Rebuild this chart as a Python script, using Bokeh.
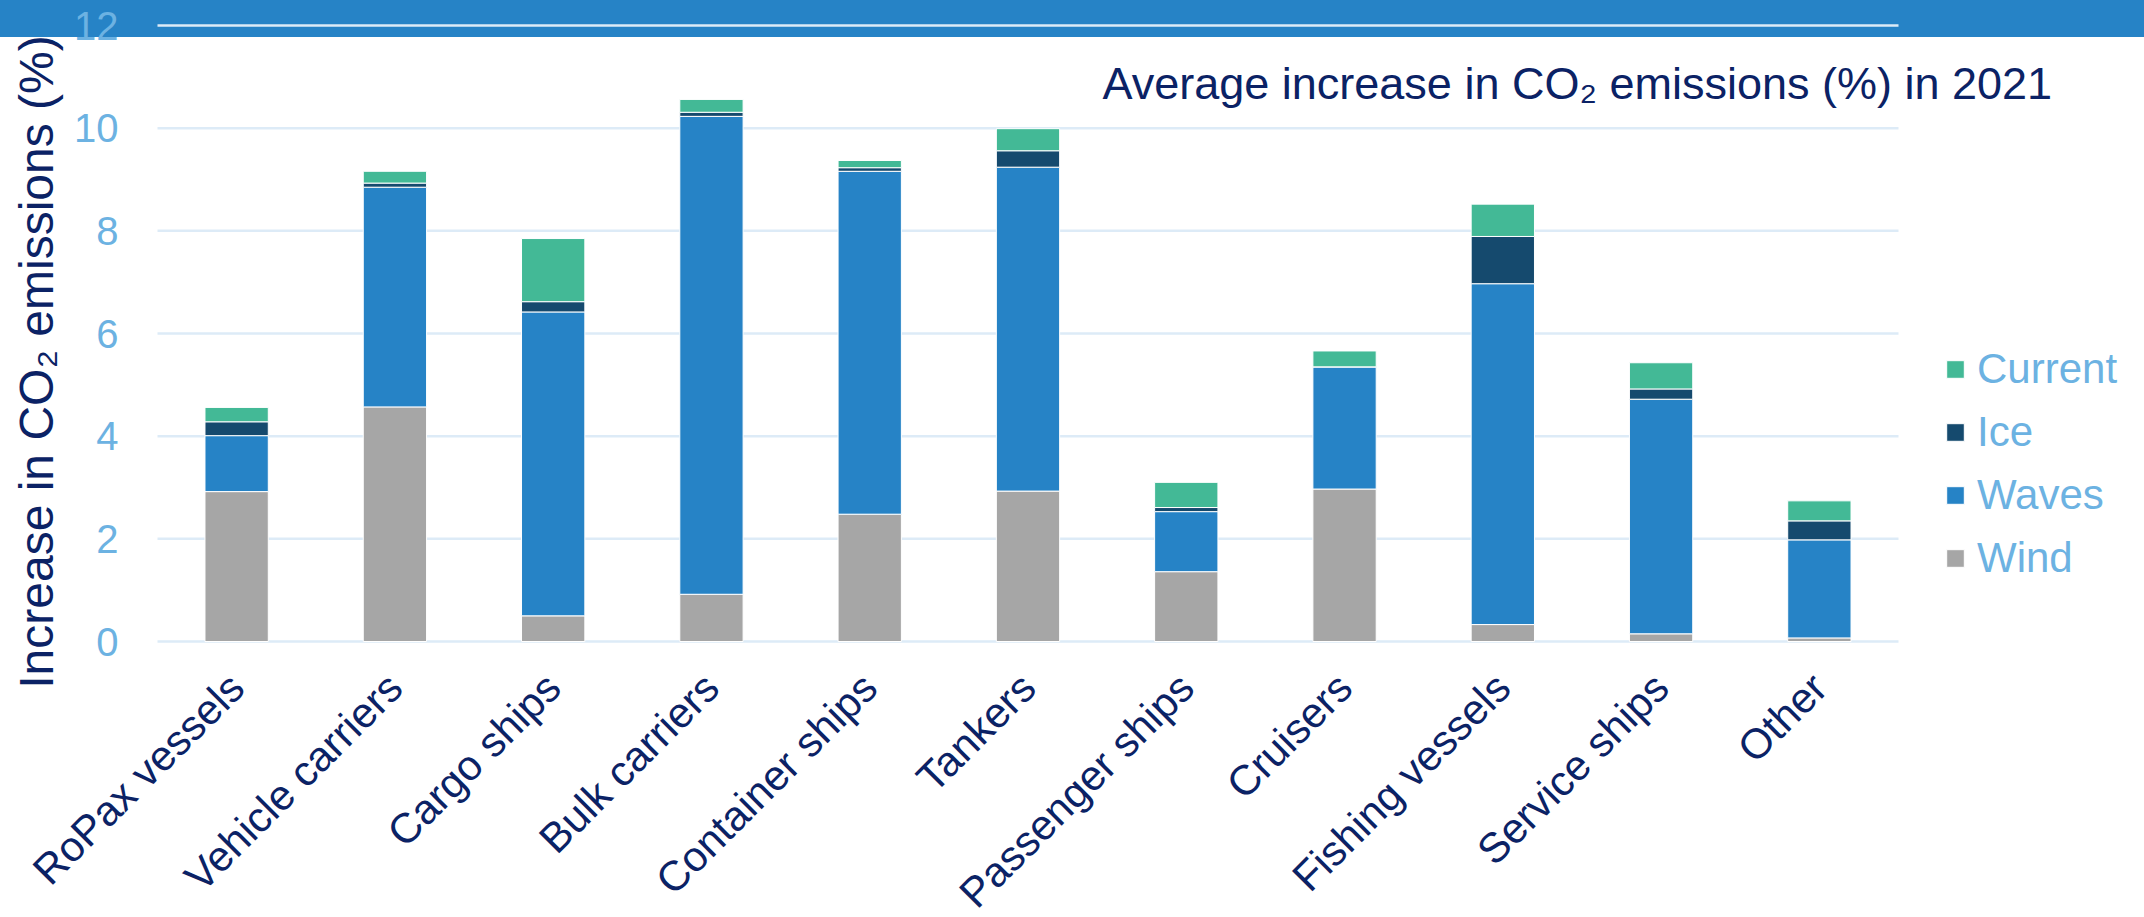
import math
from bokeh.plotting import figure
from bokeh.models import (ColumnDataSource, Range1d, Label, Legend, LegendItem, FixedTicker)
from bokeh.embed import file_html
from bokeh.resources import INLINE

# ---------------- data ----------------
categories = ["RoPax vessels", "Vehicle carriers", "Cargo ships", "Bulk carriers",
              "Container ships", "Tankers", "Passenger ships", "Cruisers",
              "Fishing vessels", "Service ships", "Other"]
wind = [2.92, 4.57, 0.50, 0.92, 2.48, 2.93, 1.36, 2.97, 0.33, 0.15, 0.07]
waves = [1.09, 4.28, 5.92, 9.31, 6.68, 6.31, 1.17, 2.38, 6.64, 4.57, 1.91]
ice = [0.27, 0.08, 0.20, 0.08, 0.07, 0.32, 0.08, 0.00, 0.92, 0.20, 0.37]
current = [0.28, 0.23, 1.23, 0.25, 0.14, 0.43, 0.49, 0.31, 0.63, 0.51, 0.39]
series = ["Wind", "Waves", "Ice", "Current"]
y_ticks = [0, 2, 4, 6, 8, 10, 12]
title_text = "Average increase in CO\u2082 emissions (%) in 2021"
y_label = "Increase in CO\u2082 emissions (%)"

# ---------------- style ----------------
colors = ["#A6A6A6", "#2683C6", "#154A6E", "#43B996"]
NAVY = "#0B2265"
LIGHT = "#6CB2E2"
GRID = "#DDEBF7"
BAND = "#2683C6"
FONT = "Liberation Sans"

n = len(categories)
pos = list(range(n))
source = ColumnDataSource(dict(x=pos, cat=categories, Wind=wind, Waves=waves,
                               Ice=ice, Current=current))

# layout geometry (pixels)
W, H = 2144, 917
plot_left, plot_right = 157, 1898      # category area
y0_px, y12_px = 641, 25                # screen rows of 0 and 12
cat_px = (plot_right - plot_left) / n
ppu = (y0_px - y12_px) / 12.0

x_start = -0.5 - plot_left / cat_px
x_end = -0.5 + (W - plot_left) / cat_px
y_start = -(H - y0_px) / ppu
y_end = y0_px / ppu

def sx(px):  # screen x -> data x
    return x_start + px / cat_px

def sy(py):  # screen y -> data y
    return (y0_px - py) / ppu

p = figure(width=W, height=H,
           x_range=Range1d(x_start, x_end), y_range=Range1d(y_start, y_end),
           output_backend="svg", toolbar_location=None,
           min_border_left=0, min_border_right=0,
           min_border_top=0, min_border_bottom=0,
           outline_line_color=None,
           background_fill_alpha=0, border_fill_alpha=0)
# header band behind the (transparent) canvas
p.styles = {"background": f"linear-gradient(to bottom, {BAND} 0px, {BAND} 37px, #FFFFFF 37px, #FFFFFF 100%)"}

# grid lines across the category area only
p.xgrid.grid_line_color = None
p.ygrid.grid_line_color = None
p.segment(x0=-0.5, x1=n - 0.5, y0=y_ticks, y1=y_ticks,
          line_color=GRID, line_width=2.5, level="underlay")

renderers = p.vbar_stack(series, x="x", width=0.4, source=source,
                         fill_color=colors, line_color="white", line_width=1)

# axes (fixed inside the canvas)
for ax in (p.xaxis[0], p.yaxis[0]):
    ax.axis_line_color = None
    ax.major_tick_line_color = None
    ax.minor_tick_line_color = None
    ax.major_tick_out = 0
    ax.major_tick_in = 0

p.yaxis.fixed_location = -0.5
p.yaxis.ticker = FixedTicker(ticks=y_ticks)
p.yaxis.major_label_text_font = FONT
p.yaxis.major_label_text_font_size = "40px"
p.yaxis.major_label_text_color = LIGHT
p.yaxis.major_label_standoff = 39

p.xaxis.fixed_location = 0
p.xaxis.ticker = FixedTicker(ticks=pos)
p.xaxis.major_label_overrides = {i: c for i, c in zip(pos, categories)}
p.xaxis.major_label_orientation = math.pi / 4
p.xaxis.major_label_text_font = FONT
p.xaxis.major_label_text_font_size = "42px"
p.xaxis.major_label_text_color = NAVY
p.xaxis.major_label_standoff = 39

# y-axis title
ylab = Label(x=sx(36), y=sy(361.5), angle=math.pi / 2, text=y_label,
             text_font=FONT, text_font_size="48px", text_color=NAVY,
             text_align="center", text_baseline="alphabetic")
p.add_layout(ylab)

# chart title inside plot area
title = Label(x=sx(1102), y=sy(83), text=title_text, text_font=FONT,
              text_font_size="45px", text_color=NAVY,
              text_align="left", text_baseline="alphabetic")
p.add_layout(title)

# legend
items = [LegendItem(label=s, renderers=[r]) for s, r in zip(series, renderers)][::-1]
legend = Legend(items=items, location=(1944, H - 582),
                label_text_font=FONT, label_text_font_size="42px",
                label_text_color=LIGHT, glyph_width=22, glyph_height=22,
                label_standoff=11, label_height=48, spacing=15, padding=0, margin=0,
                border_line_color=None, background_fill_alpha=0)
p.add_layout(legend)

open("out.html", "w").write(file_html(p, INLINE))
